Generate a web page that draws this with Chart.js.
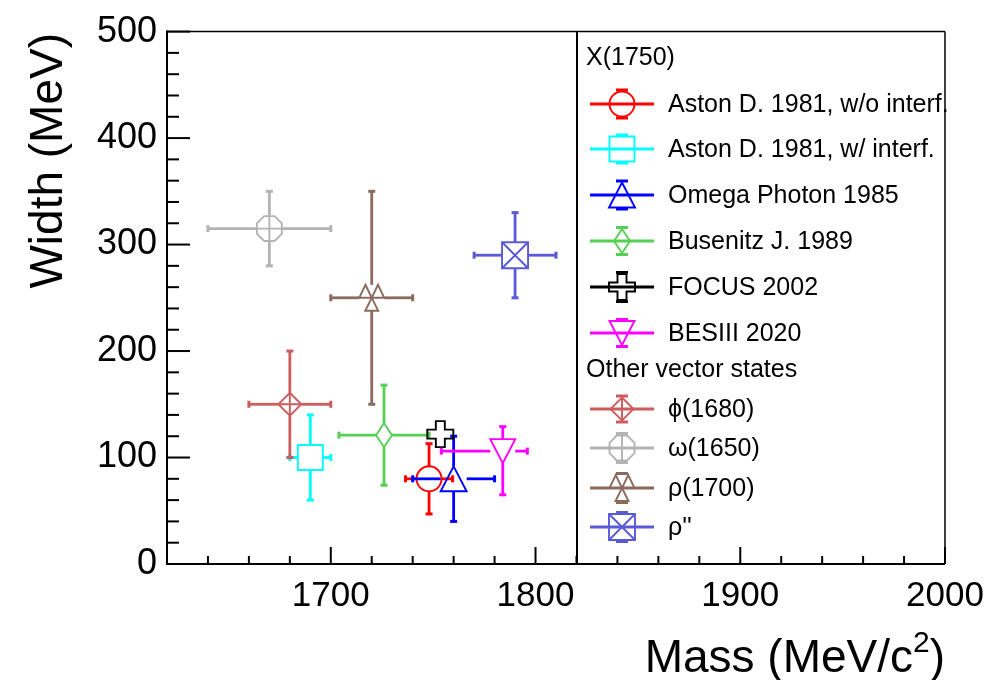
<!DOCTYPE html>
<html lang="en">
<head>
<meta charset="UTF-8">
<title>X(1750) - Mass vs Width</title>
<script src="https://cdn.jsdelivr.net/npm/chart.js"></script>
<style>
  html, body { margin: 0; padding: 0; background: #fff; }
  #wrap { width: 1001px; height: 680px; }
</style>
</head>
<body>
<div id="wrap"><canvas id="chart" width="1001" height="680"></canvas></div>
<script>
// measurements (MeV)
const names = [
  "Aston D. 1981, w/o interf.",
  "Aston D. 1981, w/ interf.",
  "Omega Photon 1985",
  "Busenitz J. 1989",
  "FOCUS 2002",
  "BESIII 2020",
  "\u03d5(1680)",
  "\u03c9(1650)",
  "\u03c1(1700)",
  "\u03c1''"
];
const groupTitles = ["X(1750)", "Other vector states"];
const groupOf = [0, 0, 0, 0, 0, 0, 1, 1, 1, 1];

const mass         = [1748, 1690, 1760, 1726, 1753.5, 1784, 1680, 1670, 1720, 1790];
const massErrLow   = [11.5,   10,   20,   22,    2.7,   30,   20,   30,   20,   20];
const massErrHigh  = [11.5,   10,   20,   22,    2.7,   12,   20,   30,   20,   20];
const width        = [  80,  100,   80,  121,    122,  106,  150,  315,  250,  290];
const widthErrLow  = [  33,   40,   40,   47,     10,   41,   50,   35,  100,   40];
const widthErrHigh = [  33,   40,   40,   47,     10,   23,   50,   35,  100,   40];

const xTicks = [1700, 1800, 1900, 2000];
const yTicks = [0, 100, 200, 300, 400, 500];

// styles
const colors = ["#ff0000", "#00ffff", "#0000ff", "#55d055", "#000000", "#ff00ff",
                "#cd5c5c", "#b3b3b3", "#8c6b5e", "#5a5ad8"];
const shapes = ["circle", "square", "triUp", "diamondThin", "openCross", "triDown",
                "diamondPlus", "octPlus", "tri3", "squareX"];
const FONT = "'Liberation Sans', Arial, Helvetica, sans-serif";

const halfSize = {
  circle: [12.5, 12.5], square: [12.5, 12.5], triUp: [13, 12.5], diamondThin: [8, 12],
  openCross: [13.5, 13], triDown: [12.5, 12], diamondPlus: [11.5, 11.5],
  octPlus: [13, 13], tri3: [12.5, 13], squareX: [13, 13]
};

function drawMarker(ctx, shape, x, y, color) {
  ctx.save();
  ctx.strokeStyle = color;
  ctx.lineWidth = 1.9;
  ctx.lineJoin = "miter";
  ctx.beginPath();
  if (shape === "circle") {
    ctx.arc(x, y, 12.5, 0, Math.PI * 2);
  } else if (shape === "square") {
    ctx.rect(x - 12.5, y - 12.5, 25, 25);
  } else if (shape === "triUp") {
    ctx.moveTo(x, y - 12.5); ctx.lineTo(x + 13, y + 12.5); ctx.lineTo(x - 13, y + 12.5); ctx.closePath();
  } else if (shape === "triDown") {
    ctx.moveTo(x - 12.5, y - 12); ctx.lineTo(x + 12.5, y - 12); ctx.lineTo(x, y + 12); ctx.closePath();
  } else if (shape === "diamondThin") {
    ctx.moveTo(x, y - 12); ctx.lineTo(x + 8, y); ctx.lineTo(x, y + 12); ctx.lineTo(x - 8, y); ctx.closePath();
  } else if (shape === "openCross") {
    const a = 4.5, b = 13;
    ctx.moveTo(x - a, y - b); ctx.lineTo(x + a, y - b); ctx.lineTo(x + a, y - a);
    ctx.lineTo(x + b, y - a); ctx.lineTo(x + b, y + a); ctx.lineTo(x + a, y + a);
    ctx.lineTo(x + a, y + b); ctx.lineTo(x - a, y + b); ctx.lineTo(x - a, y + a);
    ctx.lineTo(x - b, y + a); ctx.lineTo(x - b, y - a); ctx.lineTo(x - a, y - a);
    ctx.closePath();
  } else if (shape === "diamondPlus") {
    const r = 11.5;
    ctx.moveTo(x, y - r); ctx.lineTo(x + r, y); ctx.lineTo(x, y + r); ctx.lineTo(x - r, y); ctx.closePath();
    ctx.moveTo(x - r, y); ctx.lineTo(x + r, y);
    ctx.moveTo(x, y - r); ctx.lineTo(x, y + r);
  } else if (shape === "octPlus") {
    const r = 13.5;
    for (let k = 0; k < 8; k++) {
      const t = Math.PI / 8 + k * Math.PI / 4;
      const px = x + r * Math.cos(t), py = y + r * Math.sin(t);
      if (k === 0) ctx.moveTo(px, py); else ctx.lineTo(px, py);
    }
    ctx.closePath();
    ctx.moveTo(x - 12.5, y); ctx.lineTo(x + 12.5, y);
    ctx.moveTo(x, y - 12.5); ctx.lineTo(x, y + 12.5);
  } else if (shape === "tri3") {
    ctx.moveTo(x - 12.5, y); ctx.lineTo(x, y); ctx.lineTo(x - 6.25, y - 13); ctx.closePath();
    ctx.moveTo(x, y); ctx.lineTo(x + 12.5, y); ctx.lineTo(x + 6.25, y - 13); ctx.closePath();
    ctx.moveTo(x, y); ctx.lineTo(x + 6.5, y + 13); ctx.lineTo(x - 6.5, y + 13); ctx.closePath();
  } else if (shape === "squareX") {
    ctx.rect(x - 13, y - 13, 26, 26);
    ctx.moveTo(x - 13, y - 13); ctx.lineTo(x + 13, y + 13);
    ctx.moveTo(x + 13, y - 13); ctx.lineTo(x - 13, y + 13);
  }
  ctx.stroke();
  ctx.restore();
}

function line(ctx, x1, y1, x2, y2) {
  ctx.beginPath(); ctx.moveTo(x1, y1); ctx.lineTo(x2, y2); ctx.stroke();
}

const rootStyle = {
  id: "rootStyle",
  beforeDraw(chart) {
    const ctx = chart.ctx;
    ctx.save(); ctx.fillStyle = "#fff"; ctx.fillRect(0, 0, chart.width, chart.height); ctx.restore();
  },
  afterDatasetsDraw(chart) {
    const ctx = chart.ctx, sx = chart.scales.x, sy = chart.scales.y;
    chart.data.datasets.forEach((ds, i) => {
      const pt = chart.getDatasetMeta(i).data[0];
      const px = pt.x, py = pt.y;
      const [hw, hh] = halfSize[shapes[i]];
      const xl = sx.getPixelForValue(mass[i] - massErrLow[i]);
      const xr = sx.getPixelForValue(mass[i] + massErrHigh[i]);
      const yt = sy.getPixelForValue(width[i] + widthErrHigh[i]);
      const yb = sy.getPixelForValue(width[i] - widthErrLow[i]);
      ctx.save();
      ctx.strokeStyle = colors[i];
      ctx.lineWidth = 2.8;
      if (xl < px - hw) { line(ctx, xl, py, px - hw, py); }
      if (xr > px + hw) { line(ctx, px + hw, py, xr, py); }
      if (yt < py - hh) { line(ctx, px, yt, px, py - hh); }
      if (yb > py + hh) { line(ctx, px, py + hh, px, yb); }
      ctx.lineWidth = 3;
      if (xl < px - hw) line(ctx, xl, py - 3.5, xl, py + 3.5);
      if (xr > px + hw) line(ctx, xr, py - 3.5, xr, py + 3.5);
      if (yt < py - hh) line(ctx, px - 3.5, yt, px + 3.5, yt);
      if (yb > py + hh) line(ctx, px - 3.5, yb, px + 3.5, yb);
      ctx.restore();
      drawMarker(ctx, shapes[i], px, py, colors[i]);
    });
  },
  afterDraw(chart) {
    const ctx = chart.ctx, a = chart.chartArea, sx = chart.scales.x, sy = chart.scales.y;
    ctx.save();
    ctx.strokeStyle = "#000";

    // legend box
    const lx = 577;
    ctx.fillStyle = "#fff";
    ctx.fillRect(lx, a.top, a.right - lx, a.bottom - a.top);
    ctx.lineWidth = 2;
    line(ctx, lx, a.top, lx, a.bottom);

    ctx.fillStyle = "#000";
    ctx.font = "25px " + FONT;
    ctx.textBaseline = "middle";
    ctx.textAlign = "left";
    const rowY = [104, 149, 195, 241, 287, 333, 409, 448, 488, 527];
    ctx.fillText(groupTitles[0], 586, 58);
    ctx.fillText(groupTitles[1], 586, 370);
    names.forEach((n, i) => {
      const y = rowY[i];
      ctx.save();
      ctx.strokeStyle = colors[i];
      ctx.lineWidth = 2.8;
      line(ctx, 590, y, 654, y);
      ctx.lineWidth = 3;
      const hh = halfSize[shapes[i]][1] + 1.5;
      line(ctx, 616, y - hh, 628, y - hh);
      line(ctx, 616, y + hh, 628, y + hh);
      ctx.restore();
      drawMarker(ctx, shapes[i], 622, y, colors[i]);
      ctx.fillStyle = "#000";
      ctx.fillText(n, 668, y + 1);
    });

    // frame
    ctx.strokeStyle = "#000";
    ctx.lineWidth = 1.5;
    line(ctx, a.left, a.top, a.right, a.top);
    line(ctx, a.right, a.top, a.right, a.bottom);
    ctx.lineWidth = 2;
    line(ctx, a.left, a.top - 1, a.left, a.bottom + 1);
    line(ctx, a.left - 1, a.bottom, a.right, a.bottom);

    // inward ticks
    for (let v = sx.min + 20; v <= sx.max; v += 20) {
      const p = sx.getPixelForValue(v);
      const len = (v % 100 === 0) ? 17 : 8;
      line(ctx, p, a.bottom, p, a.bottom - len);
    }
    for (let v = sy.min + 20; v <= sy.max; v += 20) {
      const p = sy.getPixelForValue(v);
      const len = (v % 100 === 0) ? 23 : 12;
      line(ctx, a.left, p, a.left + len, p);
    }

    // axis titles
    ctx.fillStyle = "#000";
    ctx.textBaseline = "alphabetic";
    ctx.save();
    ctx.translate(62, 33);
    ctx.rotate(-Math.PI / 2);
    ctx.font = "46px " + FONT;
    ctx.textAlign = "right";
    ctx.fillText("Width (MeV)", 0, 0);
    ctx.restore();

    ctx.textAlign = "left";
    ctx.font = "46px " + FONT;
    const t1 = "Mass (MeV/c", t3 = ")";
    const w1 = ctx.measureText(t1).width, w3 = ctx.measureText(t3).width;
    ctx.font = "30px " + FONT;
    const w2 = ctx.measureText("2").width;
    const x0 = a.right - (w1 + w2 + w3);
    ctx.font = "46px " + FONT;
    ctx.fillText(t1, x0, 672);
    ctx.font = "30px " + FONT;
    ctx.fillText("2", x0 + w1, 652);
    ctx.font = "46px " + FONT;
    ctx.fillText(t3, x0 + w1 + w2, 672);
    ctx.restore();
  }
};

const datasets = names.map((n, i) => ({
  label: n,
  data: [{ x: mass[i], y: width[i] }],
  pointRadius: 0,
  showLine: false
}));

new Chart(document.getElementById("chart"), {
  type: "scatter",
  data: { datasets: datasets },
  options: {
    responsive: false,
    animation: false,
    devicePixelRatio: 1,
    layout: { padding: { top: 27, right: 56, left: 0, bottom: 0 } },
    plugins: { legend: { display: false }, tooltip: { enabled: false } },
    scales: {
      x: {
        type: "linear", min: 1620, max: 2000,
        afterBuildTicks: s => { s.ticks = xTicks.map(v => ({ value: v })); },
        afterFit: s => { s.height = 116; },
        grid: { display: false, drawTicks: false },
        border: { display: false },
        ticks: { color: "#000", font: { family: FONT, size: 35 }, padding: 11, maxRotation: 0, autoSkip: false,
                 callback: v => String(v) }
      },
      y: {
        type: "linear", min: 0, max: 500,
        afterBuildTicks: s => { s.ticks = yTicks.map(v => ({ value: v })); },
        afterFit: s => { s.width = 167; },
        grid: { display: false, drawTicks: false },
        border: { display: false },
        ticks: { color: "#000", font: { family: FONT, size: 36 }, padding: 10, autoSkip: false,
                 callback: v => String(v) }
      }
    }
  },
  plugins: [rootStyle]
});
</script>
</body>
</html>
